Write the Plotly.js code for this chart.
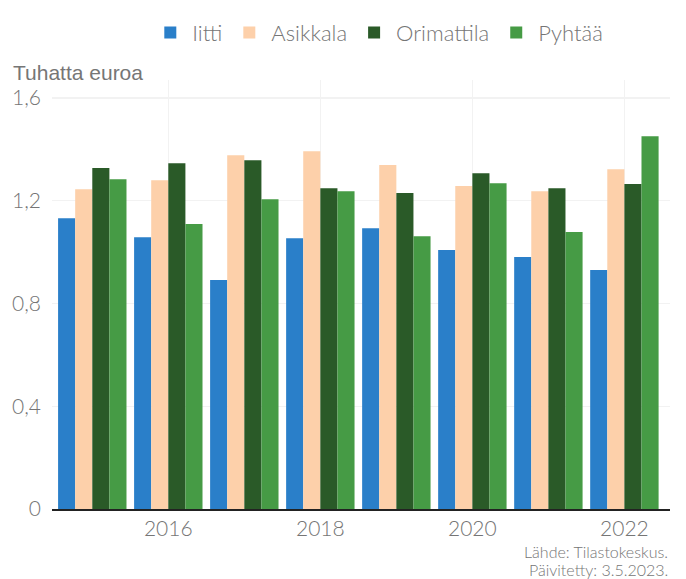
<!DOCTYPE html>
<html>
<head>
<meta charset="utf-8">
<script src="https://cdn.plot.ly/plotly-3.0.1.min.js"></script>
<style>body{margin:0;padding:0;background:#fff}#chart{width:686px;height:579px}</style>
</head>
<body>
<div id="chart"></div>
<script>
const years = [2015, 2016, 2017, 2018, 2019, 2020, 2021, 2022];
const iitti      = [1.132, 1.058, 0.891, 1.054, 1.093, 1.008, 0.981, 0.930];
const asikkala   = [1.245, 1.280, 1.377, 1.393, 1.339, 1.257, 1.237, 1.323];
const orimattila = [1.327, 1.346, 1.358, 1.249, 1.230, 1.307, 1.249, 1.265];
const pyhtaa     = [1.284, 1.109, 1.206, 1.237, 1.062, 1.268, 1.078, 1.451];
const seriesNames = ['Iitti', 'Asikkala', 'Orimattila', 'Pyhtää'];
const colors = ['#2a7fc9', '#fdd0aa', '#2a5a28', '#469b45'];
const yTickVals = [0, 0.4, 0.8, 1.2, 1.6];
const yTickText = ['0', '0,4', '0,8', '1,2', '1,6'];
const xTickVals = [2016, 2018, 2020, 2022];

const data = [iitti, asikkala, orimattila, pyhtaa].map((v, i) => ({
  type: 'bar', x: years, y: v, name: seriesNames[i],
  marker: {color: colors[i], line: {width: 0}},
  hoverinfo: 'x+y'
}));

const lightFont = (size) => ({family: 'Lato, sans-serif', size: size, color: '#757575', weight: 300});

const layout = {
  width: 686, height: 579,
  margin: {l: 52, r: 16, t: 80, b: 70},
  paper_bgcolor: '#fff', plot_bgcolor: '#fff',
  barmode: 'group', bargap: 0.1, bargroupgap: 0,
  font: lightFont(19),
  showlegend: true,
  legend: {orientation: 'h', x: 0.528, xanchor: 'center', y: 1.11, yanchor: 'middle',
           font: lightFont(22), itemwidth: 34, traceorder: 'normal'},
  xaxis: {range: [2014.47, 2022.6], tickvals: xTickVals, ticktext: xTickVals.map(String),
          showgrid: true, gridcolor: '#f2f2f2', gridwidth: 1.5,
          showline: true, linecolor: '#222', linewidth: 1.5, ticks: '', zeroline: false,
          tickfont: lightFont(21)},
  yaxis: {range: [0, 1.67], tickvals: yTickVals, ticktext: yTickText,
          showgrid: true, gridcolor: '#f2f2f2', gridwidth: 1.5, zeroline: false,
          showline: false, ticks: '', ticklabelstandoff: 10,
          tickfont: lightFont(21)},
  annotations: [
    {text: 'Tuhatta euroa', xref: 'paper', yref: 'paper', x: -0.067, y: 0.985, xanchor: 'left', yanchor: 'bottom',
     showarrow: false, font: {family: 'Liberation Sans, Arial, sans-serif', size: 21, color: '#767676'}},
    {text: 'Lähde: Tilastokeskus.', xref: 'paper', yref: 'paper', x: 1.0, y: -0.1,
     xanchor: 'right', yanchor: 'middle', align: 'right', showarrow: false,
     font: lightFont(16)},
    {text: 'Päivitetty: 3.5.2023.', xref: 'paper', yref: 'paper', x: 1.0, y: -0.142,
     xanchor: 'right', yanchor: 'middle', align: 'right', showarrow: false,
     font: lightFont(16)}
  ]
};
Plotly.newPlot('chart', data, layout, {displayModeBar: false, staticPlot: true});
</script>
</body>
</html>
